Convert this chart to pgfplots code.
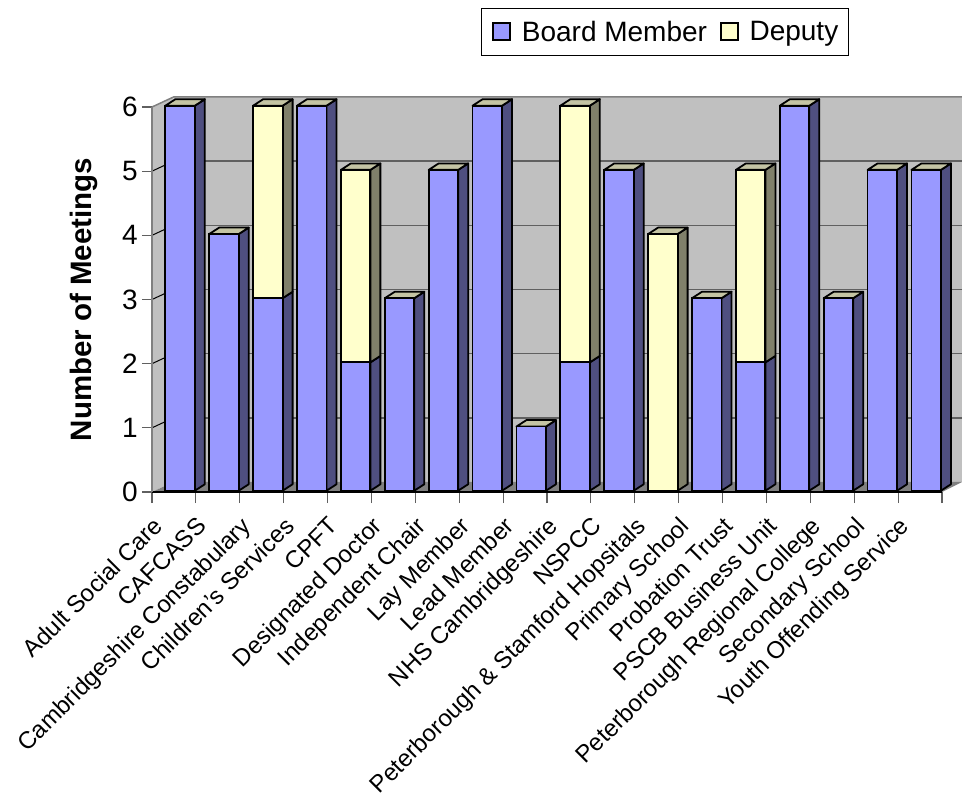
\documentclass[border=0pt]{standalone}
\usepackage{fontspec}
\setmainfont{Liberation Sans}
\usepackage{pgfplots}
\usepackage{pgfplotstable}
\pgfplotsset{compat=1.18}

\definecolor{boardfront}{HTML}{9999FF}
\definecolor{boardside}{HTML}{4F4F80}
\definecolor{deputyfront}{HTML}{FFFFCC}
\definecolor{deputyside}{HTML}{80806A}
\definecolor{bartop}{HTML}{C4C4A4}
\definecolor{wall}{HTML}{C0C0C0}
\definecolor{floorgrey}{HTML}{808080}
\definecolor{gridgrey}{HTML}{606060}

\pgfplotstableread{
idx board deputy
0 6 0
1 4 0
2 3 3
3 6 0
4 2 3
5 3 0
6 5 0
7 6 0
8 1 0
9 2 4
10 5 0
11 0 4
12 3 0
13 2 3
14 6 0
15 3 0
16 5 0
17 5 0
}\meetings

% depth of a bar, in data units (one category = 43.9, one meeting = 64.2)
\def\barR{0.976}
\def\barD{0.228}
\def\barH{0.101}
\def\barUp{0.02}

\newcommand\sideface[4]{%
  \pgfmathsetmacro\xa{#1+\barR}
  \pgfmathsetmacro\xb{#1+\barR+\barD}
  \pgfmathsetmacro\ya{#2+\barUp}
  \pgfmathsetmacro\yb{#2+\barUp+\barH}
  \pgfmathsetmacro\yc{#3+\barUp+\barH}
  \pgfmathsetmacro\yd{#3+\barUp}
  \edef\tmp{\noexpand\addplot[fill=#4,draw=black,line width=1.8pt,line join=round,forget plot]
    coordinates {(\xa,\ya)(\xb,\yb)(\xb,\yc)(\xa,\yd)} -- cycle;}
  \tmp
}
\newcommand\topface[2]{%
  \pgfmathsetmacro\xa{#1+\barR-0.672}
  \pgfmathsetmacro\xb{#1+\barR}
  \pgfmathsetmacro\xc{#1+\barR+\barD}
  \pgfmathsetmacro\xd{#1+\barR-0.672+\barD}
  \pgfmathsetmacro\ya{#2+\barUp}
  \pgfmathsetmacro\yb{#2+\barUp+\barH}
  \edef\tmp{\noexpand\addplot[fill=bartop,draw=black,line width=1.8pt,line join=round,forget plot]
    coordinates {(\xa,\ya)(\xb,\ya)(\xc,\yb)(\xd,\yb)} -- cycle;}
  \tmp
}
% label with a nudge along its baseline
\newcommand\lbl[2]{#1\hspace{#2pt}}

\begin{document}
\begin{tikzpicture}
\path[use as bounding box] (-152pt,-304pt) rectangle (810pt,492pt);

% walls, grid, ticks and the depth faces of the bars
\begin{axis}[
    at={(0pt,0pt)}, anchor=origin,
    scale only axis, width=790pt, height=385pt,
    xmin=0, xmax=18, ymin=0, ymax=6,
    clip=false, axis on top,
    axis x line*=bottom, axis y line*=left,
    x axis line style={-,black,line width=2pt},
    y axis line style={-,floorgrey,line width=1.5pt},
    ytick={0,...,6},
    xtick={0.5,1.5,...,17.5},
    minor xtick={0,...,18},
    xticklabels={Adult Social Care,\lbl{CAFCASS}{-9},\lbl{Cambridgeshire Constabulary}{10},\lbl{Children's Services}{2},\lbl{CPFT}{-6},Designated Doctor,Independent Chair,\lbl{Lay Member}{-3.5},Lead Member,\lbl{NHS Cambridgeshire}{4},NSPCC,\lbl{Peterborough \& Stamford Hopsitals}{8},\lbl{Primary School}{-3.5},Probation Trust,\lbl{PSCB Business Unit}{4},\lbl{Peterborough Regional College}{8},\lbl{Secondary School}{-3.5},\lbl{Youth Offending Service}{-3}},
    tick align=outside,
    major tick length=10pt, minor tick length=11pt,
    xtick style={draw=none},
    ytick style={draw=gridgrey,line width=1.2pt},
    minor x tick style={draw=gridgrey,line width=1.2pt},
    /pgf/number format/assume math mode=true,
    yticklabel style={font=\fontsize{28}{30}\selectfont, inner sep=4pt},
    xticklabel style={font=\fontsize{24}{26}\selectfont, rotate=45, anchor=north east, inner sep=0pt, xshift=-25pt, yshift=6.3pt},
    ylabel={\bfseries Number of Meetings},
    every axis y label/.style={at={(axis description cs:0,0.5)},xshift=-68pt,rotate=90,anchor=center,font=\fontsize{29.5}{31}\selectfont},
]
\addplot[fill=wall,draw=none,forget plot] coordinates {(0.49,0.156)(18.46,0.156)(18.46,6.156)(0.49,6.156)} -- cycle;
\addplot[fill=wall,draw=none,forget plot] coordinates {(0,0)(0.49,0.156)(0.49,6.156)(0,6)} -- cycle;
\addplot[fill=floorgrey,draw=none,forget plot] coordinates {(0,0)(18,0)(18.46,0.156)(0.49,0.156)} -- cycle;
\addplot[floorgrey,line width=1.5pt,forget plot] coordinates {(0,6)(0.49,6.156)(18.46,6.156)};
\pgfplotsinvokeforeach{1,...,5}{
  \addplot[gridgrey,line width=1.6pt,forget plot] coordinates {(0.49,#1+0.156)(18.46,#1+0.156)};
  \addplot[black,line width=1pt,forget plot] coordinates {(0,#1)(0.49,#1+0.156)};
}
\pgfplotsforeachungrouped \i in {0,...,17}{
  \pgfplotstablegetelem{\i}{board}\of\meetings \let\bval\pgfplotsretval
  \pgfplotstablegetelem{\i}{deputy}\of\meetings \let\dval\pgfplotsretval
  \pgfmathtruncatemacro\hival{\bval+\dval}
  \ifnum\bval>0 \sideface{\i}{0}{\bval}{boardside}\fi
  \ifnum\dval>0 \sideface{\i}{\bval}{\hival}{deputyside}\fi
  \topface{\i}{\hival}
}
\end{axis}

% front faces of the bars and the legend
\begin{axis}[
    at={(0pt,1.3pt)}, anchor=origin,
    scale only axis, width=790pt, height=385pt,
    xmin=0, xmax=18, ymin=0, ymax=6,
    clip=false, hide axis,
    ybar stacked, bar width=29.5pt,
    legend columns=2,
    legend style={
      at={(axis description cs:0.882,1.255)}, anchor=north east,
      font=\fontsize{28}{30}\selectfont,
      draw=black, line width=1pt, inner xsep=8pt, inner ysep=11pt,
      /tikz/every odd column/.append style={column sep=9pt},
      /tikz/every even column/.append style={column sep=11pt},
    },
]
\addplot[fill=boardfront,draw=black,line width=1.8pt,
  legend image code/.code={\path (-3pt,0pt); \draw[fill=boardfront,draw=black,line width=1.5pt] (0pt,-8pt) rectangle (17pt,9pt);}]
  table[x expr=\thisrow{idx}+0.64,y=board]{\meetings};
\addplot[fill=deputyfront,draw=black,line width=1.8pt,
  legend image code/.code={\draw[fill=deputyfront,draw=black,line width=1.5pt] (0pt,-8pt) rectangle (17pt,9pt);}]
  table[x expr=\thisrow{idx}+0.64,y=deputy]{\meetings};
\legend{Board Member,Deputy}
\end{axis}
\end{tikzpicture}
\end{document}
